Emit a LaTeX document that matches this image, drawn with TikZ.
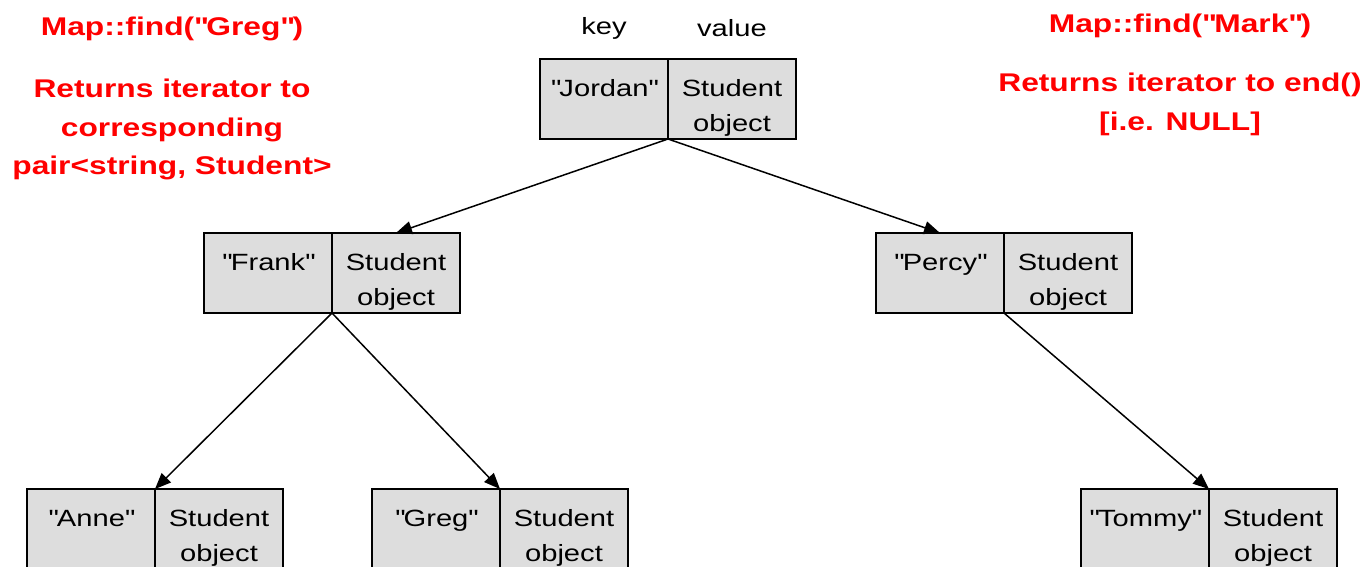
\documentclass[tikz,border=0pt]{standalone}
\usepackage{fontspec}
\setmainfont{Liberation Sans}[FakeStretch=1.24]
\usetikzlibrary{arrows.meta}
\definecolor{cellgray}{HTML}{DDDDDD}
\definecolor{tred}{HTML}{FF0000}
\newcommand\dq{\XeTeXglyph\XeTeXcharglyph"22\relax}
\tikzset{
  cell/.style={draw=black, fill=cellgray, line width=1.6pt, minimum width=128pt, minimum height=80pt, inner sep=0pt, outer sep=0pt},
  celltext/.style={font=\fontsize{23.5}{35}\selectfont, align=center, inner sep=0pt, anchor=base},
  hdr/.style={font=\fontsize{23.5}{35}\selectfont, inner sep=0pt},
  note/.style={text=tred, font=\bfseries\fontsize{25.6}{38.5}\selectfont, align=center, inner sep=0pt},
  arr/.style={line width=1.5pt, -{Triangle[length=16pt,width=13pt]}}
}
\newcommand\kvpair[4]{%
  \node[cell, anchor=north west] (#1k) at (#2,#3) {};
  \node[cell, anchor=north west] (#1v) at (#1k.north east) {};
  \node[celltext] (#1kt) at ([yshift=-37pt]#1k.north) {#4};
  \node[celltext] (#1vt) at ([yshift=-72pt]#1v.north) {Student\\object};
}
\begin{document}
\begin{tikzpicture}[x=1pt,y=-1pt]
\useasboundingbox (0,0) rectangle (1363,566);
\begin{scope}
\clip (0,0) rectangle (1363,566);
\kvpair{jordan}{540}{59}{\dq Jordan\dq}
\kvpair{frank}{204}{233}{\dq Frank\dq}
\kvpair{percy}{876}{233}{\dq Percy\dq}
\kvpair{anne}{27}{489}{\dq Anne\dq}
\kvpair{greg}{372}{489}{\dq Greg\dq}
\kvpair{tommy}{1081}{489}{\dq Tommy\dq}
\end{scope}
\node[hdr] (key) at (604,28) {key};
\node[hdr] (value) at (732,28) {value};
\draw[arr] (jordank.south east) -- (frankv.north);
\draw[arr] (jordank.south east) -- (percyk.north);
\draw[arr] (frankk.south east) -- (annek.north east);
\draw[arr] (frankk.south east) -- (gregk.north east);
\draw[arr] (percyk.south east) -- (tommyk.north east);
\node[note] (greg1) at (172,29) {Map::find(\dq Greg\dq)};
\node[note, anchor=north] (greg2) at (172,79) {Returns iterator to\\corresponding\\pair<string, Student>};
\node[note] (mark1) at (1180,26) {Map::find(\dq Mark\dq)};
\node[note, anchor=north] (mark2) at (1180,73) {Returns iterator to end()\\{}[i.e. NULL]};
\end{tikzpicture}
\end{document}
